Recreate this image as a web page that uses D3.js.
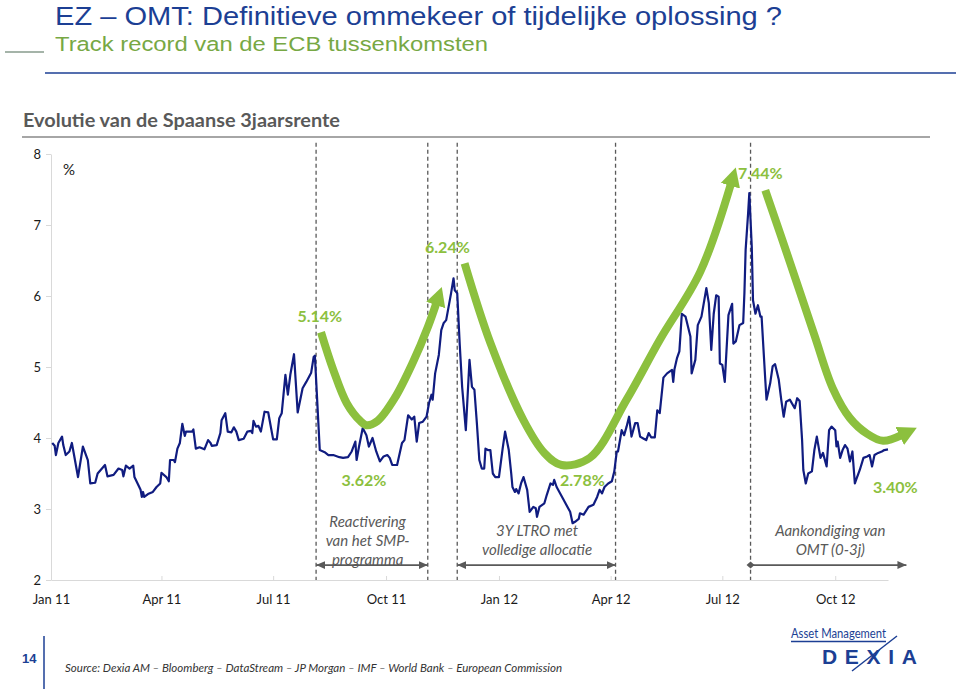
<!DOCTYPE html>
<html><head><meta charset="utf-8">
<script src="https://cdn.jsdelivr.net/npm/d3@7"></script>
<style>
html,body{margin:0;padding:0;background:#fff;}
svg{display:block;}
</style></head>
<body>
<svg id="chart" width="960" height="691"></svg>
<script>
// ---------- data ----------
const dates = ["2011-01-02","2011-01-04","2011-01-05","2011-01-07","2011-01-10","2011-01-11","2011-01-13","2011-01-16","2011-01-18","2011-01-20","2011-01-23","2011-01-27","2011-01-31","2011-02-02","2011-02-06","2011-02-08","2011-02-14","2011-02-16","2011-02-21","2011-02-25","2011-02-28","2011-03-01","2011-03-03","2011-03-06","2011-03-09","2011-03-10","2011-03-15","2011-03-16","2011-03-17","2011-03-18","2011-03-21","2011-03-25","2011-03-28","2011-03-31","2011-04-01","2011-04-05","2011-04-07","2011-04-08","2011-04-11","2011-04-12","2011-04-14","2011-04-16","2011-04-18","2011-04-20","2011-04-21","2011-04-26","2011-04-27","2011-04-29","2011-05-02","2011-05-06","2011-05-09","2011-05-11","2011-05-12","2011-05-16","2011-05-19","2011-05-20","2011-05-23","2011-05-25","2011-05-28","2011-05-30","2011-06-01","2011-06-03","2011-06-07","2011-06-10","2011-06-13","2011-06-14","2011-06-15","2011-06-17","2011-06-19","2011-06-21","2011-06-24","2011-06-27","2011-06-29","2011-07-01","2011-07-04","2011-07-06","2011-07-08","2011-07-11","2011-07-13","2011-07-15","2011-07-18","2011-07-21","2011-07-25","2011-07-28","2011-08-01","2011-08-03","2011-08-04","2011-08-08","2011-08-12","2011-08-15","2011-08-19","2011-08-24","2011-08-27","2011-08-31","2011-09-03","2011-09-06","2011-09-07","2011-09-09","2011-09-12","2011-09-15","2011-09-17","2011-09-20","2011-09-23","2011-09-26","2011-09-29","2011-10-02","2011-10-04","2011-10-06","2011-10-10","2011-10-14","2011-10-16","2011-10-19","2011-10-22","2011-10-24","2011-10-26","2011-10-28","2011-10-31","2011-11-03","2011-11-05","2011-11-07","2011-11-08","2011-11-10","2011-11-13","2011-11-15","2011-11-17","2011-11-19","2011-11-23","2011-11-25","2011-11-26","2011-11-28","2011-11-30","2011-12-02","2011-12-05","2011-12-08","2011-12-10","2011-12-12","2011-12-14","2011-12-16","2011-12-18","2011-12-20","2011-12-21","2011-12-23","2011-12-25","2011-12-27","2011-12-29","2012-01-01","2012-01-04","2012-01-06","2012-01-09","2012-01-11","2012-01-12","2012-01-14","2012-01-15","2012-01-17","2012-01-19","2012-01-21","2012-01-24","2012-01-26","2012-01-29","2012-01-31","2012-02-01","2012-02-03","2012-02-07","2012-02-09","2012-02-12","2012-02-14","2012-02-15","2012-02-17","2012-02-22","2012-02-28","2012-03-01","2012-03-03","2012-03-06","2012-03-07","2012-03-10","2012-03-14","2012-03-18","2012-03-21","2012-03-23","2012-03-25","2012-03-27","2012-03-30","2012-04-02","2012-04-04","2012-04-06","2012-04-07","2012-04-10","2012-04-12","2012-04-14","2012-04-16","2012-04-18","2012-04-21","2012-04-23","2012-04-25","2012-04-28","2012-04-30","2012-05-02","2012-05-04","2012-05-07","2012-05-09","2012-05-11","2012-05-14","2012-05-17","2012-05-21","2012-05-22","2012-05-23","2012-05-25","2012-05-27","2012-05-29","2012-06-01","2012-06-05","2012-06-06","2012-06-09","2012-06-11","2012-06-14","2012-06-18","2012-06-20","2012-06-22","2012-06-24","2012-06-26","2012-06-28","2012-06-29","2012-07-01","2012-07-03","2012-07-06","2012-07-09","2012-07-10","2012-07-12","2012-07-15","2012-07-18","2012-07-19","2012-07-20","2012-07-22","2012-07-23","2012-07-25","2012-07-26","2012-07-28","2012-07-30","2012-08-01","2012-08-02","2012-08-05","2012-08-06","2012-08-09","2012-08-11","2012-08-13","2012-08-16","2012-08-18","2012-08-20","2012-08-22","2012-08-25","2012-08-29","2012-08-31","2012-09-02","2012-09-04","2012-09-05","2012-09-07","2012-09-09","2012-09-12","2012-09-14","2012-09-16","2012-09-19","2012-09-21","2012-09-24","2012-09-26","2012-09-28","2012-10-01","2012-10-02","2012-10-03","2012-10-05","2012-10-07","2012-10-09","2012-10-11","2012-10-13","2012-10-15","2012-10-17","2012-10-18","2012-10-21","2012-10-24","2012-10-27","2012-10-29","2012-10-31","2012-11-02","2012-11-05","2012-11-08","2012-11-10","2012-11-13"];
const values = [3.93,3.89,3.76,3.93,4.02,3.90,3.76,3.81,3.93,3.74,3.45,3.88,3.69,3.36,3.37,3.50,3.62,3.46,3.48,3.57,3.55,3.46,3.61,3.57,3.61,3.45,3.27,3.17,3.24,3.17,3.21,3.24,3.31,3.36,3.51,3.45,3.39,3.69,3.69,3.66,3.85,3.93,4.20,4.03,4.09,4.09,4.12,3.85,3.87,3.84,3.97,3.93,3.89,3.90,4.07,4.25,4.35,4.09,4.08,4.15,4.09,3.97,3.99,4.09,4.10,4.07,4.24,4.16,4.17,4.09,4.37,4.36,4.17,3.98,3.98,4.28,4.35,4.89,4.61,4.89,5.18,4.36,4.70,4.79,4.92,5.14,5.16,3.83,3.80,3.76,3.76,3.73,3.72,3.73,3.81,3.95,3.69,3.88,4.14,4.04,3.88,4.00,3.81,3.67,3.74,3.76,3.72,3.62,3.62,3.93,3.97,4.32,4.26,4.30,3.95,4.21,4.23,4.30,4.49,4.61,4.54,4.91,5.17,5.52,5.62,5.66,6.04,6.25,6.08,6.04,5.33,4.72,4.11,5.10,4.72,4.68,4.21,3.69,3.57,3.57,3.85,3.83,3.83,3.50,3.45,3.45,3.85,4.09,3.83,3.50,3.31,3.24,3.28,3.22,3.36,3.45,3.27,2.96,3.03,3.01,2.89,3.03,3.08,3.20,3.36,3.34,3.41,3.31,3.15,2.96,2.80,2.82,2.86,2.94,2.92,3.03,3.06,3.17,3.27,3.22,3.31,3.36,3.39,3.53,3.81,3.81,4.11,4.04,4.16,4.30,4.02,4.21,4.21,4.02,3.99,3.97,4.07,4.01,4.01,4.39,4.35,4.85,4.91,4.96,4.79,4.97,5.12,5.22,5.75,5.71,5.43,4.91,5.10,5.59,5.71,6.11,5.90,5.24,5.75,6.01,5.99,5.05,5.03,4.79,5.73,5.89,5.33,5.36,5.59,5.62,6.04,6.65,7.16,7.45,6.69,5.94,5.75,5.87,5.71,5.71,4.82,4.54,4.77,5.01,5.04,4.82,4.54,4.30,4.51,4.54,4.42,4.56,4.52,3.97,3.55,3.36,3.50,3.53,3.83,4.02,3.72,3.79,3.60,4.11,4.16,4.11,3.88,3.95,3.72,3.83,3.90,3.85,3.67,3.81,3.36,3.41,3.55,3.72,3.74,3.76,3.60,3.76,3.79,3.81,3.83,3.84];

const xDomain = ["2011-01-01","2012-11-13"];
const yTicks = [2,3,4,5,6,7,8];
const tickDates = ["2011-01-01","2011-04-01","2011-07-01","2011-10-01","2012-01-01","2012-04-01","2012-07-01","2012-10-01"];
const tickLabels = ["Jan 11","Apr 11","Jul 11","Oct 11","Jan 12","Apr 12","Jul 12","Oct 12"];

// ECB intervention markers (dashed verticals)
const eventDates = ["2011-08-05","2011-11-04","2011-11-28","2012-04-05","2012-07-24"];

// green trend arrows (date, level)
const arcSmpDates = ["2011-08-09","2011-08-19","2011-08-30","2011-09-10","2011-09-15","2011-09-24","2011-10-08","2011-10-23","2011-11-04","2011-11-11"];
const arcSmpValues = [5.49,4.96,4.49,4.24,4.18,4.24,4.56,5.07,5.56,5.90];
const arcLtroDates = ["2011-12-04","2011-12-25","2012-01-21","2012-02-07","2012-02-21","2012-03-15","2012-04-14","2012-05-11","2012-06-13","2012-07-08"];
const arcLtroValues = [6.46,5.34,4.25,3.79,3.62,3.72,4.54,5.38,6.34,7.58];
const arcOmtDates = ["2012-08-05","2012-08-25","2012-09-14","2012-09-29","2012-10-13","2012-10-27","2012-11-09","2012-11-24"];
const arcOmtValues = [7.49,6.48,5.45,4.70,4.28,4.06,3.96,4.04];

// green level labels
const pctLabels = ["5.14%","6.24%","7.44%","3.62%","2.78%","3.40%"];
const pctLabelDates = ["2011-08-08","2011-11-20","2012-08-01","2011-09-13","2012-03-09","2012-11-19"];
const pctLabelValues = [5.73,6.70,7.74,3.42,3.41,3.31];

// italic notes and period spans
const noteLines = [["Reactivering","van het SMP-","programma"],["3Y LTRO met","volledige allocatie"],["Aankondiging van","OMT (0-3j)"]];
const noteDates = ["2011-09-16","2012-02-01","2012-09-27"];
const noteValues = [2.83,2.70,2.70];
const spanStarts = ["2011-08-05","2011-11-28","2012-07-24"];
const spanEnds = ["2011-11-04","2012-04-05","2012-11-28"];
const spanLevel = 2.21;

// ---------- drawing ----------
const parse = d3.utcParse("%Y-%m-%d");
const svg = d3.select("#chart");
const GREEN = "#8cc03e", NAVY = "#101c80", BLUE = "#1c3f94", GREY = "#595959";

const x = d3.scaleUtc().domain(xDomain.map(parse)).range([51, 888]);
const y = d3.scaleLinear().domain([2, 8]).range([580, 154]);

// header
svg.append("text").attr("x", 55).attr("y", 25).text("EZ – OMT: Definitieve ommekeer of tijdelijke oplossing ?")
  .attr("font-family", "Liberation Sans, Arial, sans-serif").attr("font-size", 25).attr("fill", BLUE)
  .attr("textLength", 727).attr("lengthAdjust", "spacingAndGlyphs");
svg.append("text").attr("x", 55).attr("y", 51).text("Track record van de ECB tussenkomsten")
  .attr("font-family", "Liberation Sans, Arial, sans-serif").attr("font-size", 20.5).attr("fill", "#77a844")
  .attr("textLength", 433).attr("lengthAdjust", "spacingAndGlyphs");
svg.append("line").attr("x1", 5).attr("x2", 44).attr("y1", 52).attr("y2", 52).attr("stroke", "#4d6a55").attr("stroke-width", 1.2);
svg.append("line").attr("x1", 45).attr("x2", 956).attr("y1", 73).attr("y2", 73).attr("stroke", BLUE).attr("stroke-width", 1.6);

svg.append("text").attr("x", 23).attr("y", 127).text("Evolutie van de Spaanse 3jaarsrente")
  .attr("font-family", "Lato, sans-serif").attr("font-weight", 700).attr("font-size", 18.5).attr("fill", GREY)
  .attr("textLength", 317).attr("lengthAdjust", "spacingAndGlyphs");
svg.append("line").attr("x1", 22).attr("x2", 930).attr("y1", 137).attr("y2", 137).attr("stroke", "#a6a6a6").attr("stroke-width", 2);

// markers
const defs = svg.append("defs");
defs.append("marker").attr("id", "greenHead").attr("markerUnits", "userSpaceOnUse")
  .attr("viewBox", "0 -11 20 22").attr("markerWidth", 20).attr("markerHeight", 22)
  .attr("refX", 2).attr("refY", 0).attr("orient", "auto")
  .append("path").attr("d", "M0,-10L19,0L0,10Z").attr("fill", GREEN);
defs.append("marker").attr("id", "greyHead").attr("markerUnits", "userSpaceOnUse")
  .attr("viewBox", "0 -5 10 10").attr("markerWidth", 10).attr("markerHeight", 10)
  .attr("refX", 9).attr("refY", 0).attr("orient", "auto-start-reverse")
  .append("path").attr("d", "M0,-4L9,0L0,4Z").attr("fill", GREY);
defs.append("marker").attr("id", "greyDiamond").attr("markerUnits", "userSpaceOnUse")
  .attr("viewBox", "-5 -5 10 10").attr("markerWidth", 10).attr("markerHeight", 10)
  .attr("refX", 0).attr("refY", 0).attr("orient", "auto")
  .append("path").attr("d", "M-4,0L0,-3.5L4,0L0,3.5Z").attr("fill", GREY);

// axes
const yAxis = svg.append("g").attr("transform", "translate(51,0)")
  .call(d3.axisLeft(y).tickValues(yTicks).tickFormat(d3.format("d")).tickSize(5).tickSizeOuter(0).tickPadding(5));
yAxis.select(".domain").attr("stroke", "#d9d9d9");
yAxis.selectAll(".tick line").attr("stroke", "#d9d9d9");
yAxis.selectAll("text").attr("font-family", "Lato, sans-serif").attr("font-size", 13).attr("fill", "#1a1a1a");

const xAxis = svg.append("g").attr("transform", "translate(0,580)")
  .call(d3.axisBottom(x).tickValues(tickDates.map(parse)).tickFormat((d, i) => tickLabels[i])
    .tickSizeInner(-4).tickSizeOuter(0).tickPadding(15));
xAxis.select(".domain").attr("stroke", "#d9d9d9");
xAxis.selectAll(".tick line").attr("stroke", "#d9d9d9");
xAxis.selectAll("text").attr("font-family", "Lato, sans-serif").attr("font-size", 13).attr("fill", "#1a1a1a");

svg.append("text").attr("x", 63).attr("y", 175).text("%")
  .attr("font-family", "Lato, sans-serif").attr("font-size", 15).attr("fill", "#1a1a1a");

// dashed event lines
svg.append("g").selectAll("line").data(eventDates).join("line")
  .attr("x1", d => x(parse(d))).attr("x2", d => x(parse(d)))
  .attr("y1", y(8.16)).attr("y2", y(2))
  .attr("stroke", GREY).attr("stroke-width", 1.3).attr("stroke-dasharray", "4,3");

// main series
const series = dates.map((d, i) => ({ date: parse(d), value: values[i] }));
svg.append("path").datum(series)
  .attr("fill", "none").attr("stroke", NAVY).attr("stroke-width", 2.2).attr("stroke-linejoin", "round")
  .attr("d", d3.line().x(d => x(d.date)).y(d => y(d.value)));

// green arrows
const arcLine = d3.line().x(d => x(d.date)).y(d => y(d.value)).curve(d3.curveCatmullRom.alpha(0.5));
[[arcSmpDates, arcSmpValues], [arcLtroDates, arcLtroValues], [arcOmtDates, arcOmtValues]].forEach(([ds, vs]) => {
  svg.append("path").datum(ds.map((d, i) => ({ date: parse(d), value: vs[i] })))
    .attr("fill", "none").attr("stroke", GREEN).attr("stroke-width", 8).attr("stroke-linecap", "butt")
    .attr("marker-end", "url(#greenHead)").attr("d", arcLine);
});

// green level labels
svg.append("g").selectAll("text").data(pctLabels).join("text")
  .attr("x", (d, i) => x(parse(pctLabelDates[i]))).attr("y", (d, i) => y(pctLabelValues[i]))
  .attr("text-anchor", "middle").attr("dominant-baseline", "central")
  .attr("font-family", "Lato, sans-serif").attr("font-weight", 700).attr("font-size", 16).attr("fill", GREEN)
  .text(d => d);

// notes
noteLines.forEach((lines, k) => {
  const t = svg.append("text").attr("text-anchor", "middle")
    .attr("font-family", "Lato, sans-serif").attr("font-style", "italic").attr("font-size", 15).attr("fill", GREY);
  lines.forEach((l, j) => {
    t.append("tspan").attr("x", x(parse(noteDates[k]))).attr("y", y(noteValues[k]) + j * 19)
      .attr("dominant-baseline", "central").text(l);
  });
});

// period spans
spanStarts.forEach((s, k) => {
  svg.append("line")
    .attr("x1", x(parse(s))).attr("x2", x(parse(spanEnds[k])))
    .attr("y1", y(spanLevel)).attr("y2", y(spanLevel))
    .attr("stroke", GREY).attr("stroke-width", 1.6)
    .attr("marker-start", k === 2 ? "url(#greyDiamond)" : "url(#greyHead)")
    .attr("marker-end", "url(#greyHead)");
});

// footer
svg.append("text").attr("x", 22).attr("y", 663).text("14")
  .attr("font-family", "Liberation Sans, Arial, sans-serif").attr("font-weight", 700).attr("font-size", 13).attr("fill", BLUE);
svg.append("line").attr("x1", 44).attr("x2", 44).attr("y1", 636).attr("y2", 689).attr("stroke", BLUE).attr("stroke-width", 1.5);
svg.append("text").attr("x", 65).attr("y", 672).text("Source: Dexia AM – Bloomberg – DataStream – JP Morgan – IMF – World Bank – European Commission")
  .attr("font-family", "Lato, sans-serif").attr("font-style", "italic").attr("font-size", 12).attr("fill", "#333")
  .attr("textLength", 497).attr("lengthAdjust", "spacingAndGlyphs");

// logo
svg.append("text").attr("x", 791).attr("y", 638).text("Asset Management")
  .attr("font-family", "Lato, sans-serif").attr("font-size", 12.5).attr("fill", BLUE)
  .attr("textLength", 95).attr("lengthAdjust", "spacingAndGlyphs");
svg.append("line").attr("x1", 791).attr("x2", 886).attr("y1", 641.5).attr("y2", 641.5).attr("stroke", BLUE).attr("stroke-width", 1.3);
svg.append("text").attr("x", 822).attr("y", 664).text("DEXIA")
  .attr("font-family", "Liberation Sans, Arial, sans-serif").attr("font-weight", 700).attr("font-size", 21).attr("fill", BLUE)
  .attr("textLength", 95).attr("lengthAdjust", "spacing");
svg.append("line").attr("x1", 852).attr("x2", 897).attr("y1", 671).attr("y2", 636).attr("stroke", BLUE).attr("stroke-width", 1.5);
</script>
</body></html>
